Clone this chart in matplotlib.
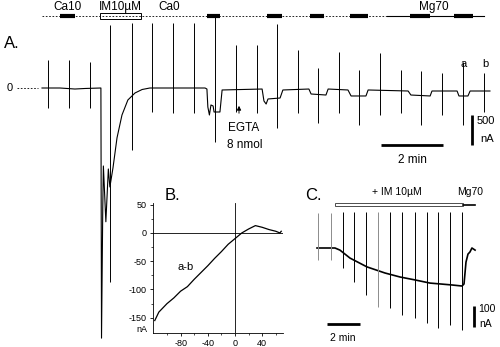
import numpy as np
import matplotlib
matplotlib.use('Agg')
import matplotlib.pyplot as plt

plt.rcParams['font.family'] = ['Liberation Sans', 'DejaVu Sans']
plt.rcParams['axes.unicode_minus'] = False

# ---------------- Panel A data (time in min, current in nA) ----------------
a_trace_t = [0, 0.58, 1.06, 1.39, 1.90, 1.92, 1.96, 1.98, 2.06, 2.14, 2.19,
             2.29, 2.42, 2.58, 2.77, 3.00, 3.23, 3.48, 5.26, 5.32, 5.35, 5.40,
             5.45, 5.52, 5.55, 5.74, 5.81, 7.10, 7.16, 7.23, 7.29, 7.68, 7.77,
             8.61, 8.68, 9.16, 9.23, 9.87, 9.97, 10.45, 10.52, 11.81, 11.90,
             12.52, 12.58, 13.39, 13.45, 13.74, 13.81, 14.45]
a_trace_i = [0, 0, -17, -8, 0, -4170, -2000, -1300, -2230, -1350, -1650,
             -1330, -830, -450, -200, -83, -25, 0, 0, -17, -317, -450,
             -283, -300, -400, -400, -33, -17, -217, -267, -183, -167, -33,
             -17, -100, -117, -17, -33, -133, -133, -33, -50, -117,
             -133, -50, -50, -133, -133, -50, -50]

a_spike_t = [0.19, 0.87, 1.55, 2.19, 2.90, 3.55, 4.23, 4.90, 5.58, 6.26, 6.94,
             7.58, 8.26, 8.90, 9.58, 10.23, 10.90, 11.58, 12.23, 12.90, 13.58, 14.26]
a_spike_top = [467, 467, 433, 1050, 1083, 1083, 1083, 1083, 1183, 717, 717,
               1067, 633, 333, 600, 300, 583, 300, 283, 250, 433, 250]
a_spike_bot = [-333, -333, -333, -3233, -1033, -400, -417, -417, -900, -400, -417,
               -667, -417, -583, -417, -617, -450, -417, -617, -450, -617, -400]

ca10_bar = (0.58, 1.06)
im_box = (1.87, 3.19)
ca0_bars = [(5.32, 5.74), (7.26, 7.74), (8.65, 9.10), (9.94, 10.52),
            (11.87, 12.52), (13.29, 13.90)]
dotted_span = (0, 11.13)
mg70_span = (11.13, 14.26)

# ---------------- Panel B data (mV, nA) ----------------
b_v = [-118, -112, -100, -90, -80, -70, -60, -50, -40, -30, -20, -10, 0,
       10, 20, 30, 40, 50, 60, 66, 68]
b_i = [-155, -140, -125, -115, -103, -95, -82, -70, -58, -45, -33, -20, -10,
       0, 7, 13, 10, 6, 3, 0, 3]

# ---------------- Panel C data (min, nA) ----------------
c_trace_t = [0, 1.09, 1.39, 2.00, 3.03, 4.12, 5.03, 5.94, 6.85, 7.45, 8.18,
             8.79, 8.91, 9.03, 9.15, 9.27, 9.39, 9.58]
c_trace_i = [0, 0, -10, -48, -90, -119, -138, -152, -167, -171, -176,
             -181, -171, -67, -29, -19, 0, -10]
c_spike_t = [0.06, 0.85, 1.58, 2.24, 2.97, 3.70, 4.42, 5.15, 5.94, 6.67,
             7.33, 8.06, 8.79]
c_spike_top = [167, 167, 171, 171, 171, 171, 171, 171, 171, 171, 171, 171, 171]
c_spike_bot = [-57, -57, -95, -162, -224, -281, -286, -319, -333, -357,
               -381, -367, -390]
c_spike_gray = [True, True, False, False, False, True, False, False, False,
                False, False, False, False]
c_im_box = (1.09, 8.85)
c_mg70 = (8.85, 9.58)

W, H = 500, 347
fig = plt.figure(figsize=(5, 3.47), dpi=100)


def fx(x):
    return x / W


def fy(y):
    return 1 - y / H


def label(x, y, s, size=8, ha='center', **kw):
    fig.text(fx(x), fy(y), s, fontsize=size, ha=ha, va='center', **kw)


# ---------------- Panel A ----------------
axA = fig.add_axes([0, 0, 1, 1])
axA.set_xlim(-42 / 31, (W - 42) / 31)
axA.set_ylim((88 - H) * 16.67, 88 * 16.67)
axA.axis('off')
axA.plot(a_trace_t, a_trace_i, color='black', lw=0.8)
axA.vlines(a_spike_t, a_spike_bot, a_spike_top, color='black', lw=0.7)

bar_y = 1200
axA.plot(dotted_span, [bar_y, bar_y], color='black', lw=0.6, ls=(0, (2, 2)))
axA.plot(mg70_span, [bar_y, bar_y], color='black', lw=0.8)
axA.plot(ca10_bar, [bar_y, bar_y], color='black', lw=3, solid_capstyle='butt')
for b in ca0_bars:
    axA.plot(b, [bar_y, bar_y], color='black', lw=3, solid_capstyle='butt')
axA.add_patch(plt.Rectangle((im_box[0], bar_y - 45), im_box[1] - im_box[0], 90,
                            facecolor='white', edgecolor='black', lw=0.7))
# zero reference
axA.plot([-25 / 31, -4 / 31], [0, 0], color='black', lw=0.6, ls=(0, (2, 2)))
# scale bars
axA.plot([(381 - 42) / 31, (443 - 42) / 31], [(88 - 145) * 16.67] * 2,
         color='black', lw=2, solid_capstyle='butt')
axA.plot([(472 - 42) / 31] * 2, [(88 - 115) * 16.67, (88 - 145) * 16.67],
         color='black', lw=2, solid_capstyle='butt')
# EGTA arrow
axA.annotate('', xy=((239 - 42) / 31, (88 - 103) * 16.67),
             xytext=((239 - 42) / 31, (88 - 116) * 16.67),
             arrowprops=dict(arrowstyle='-|>', color='black', lw=0.7,
                             mutation_scale=6))

label(12, 43, 'A.', size=12)
label(10, 88, '0', size=8)
label(68, 7, 'Ca10', size=8.5)
label(120, 7, 'IM10\u00b5M', size=8.5)
label(169, 7, 'Ca0', size=8.5)
label(434, 7, 'Mg70', size=8.5)
label(464, 64, 'a')
label(485, 64, 'b')
label(228, 128, 'EGTA', size=8.5, ha='left')
label(227, 145, '8 nmol', size=8.5, ha='left')
label(412, 160, '2 min', size=8.5)
label(477, 121, '500', size=8, ha='left')
label(480, 139, 'nA', size=8, ha='left')

# ---------------- Panel B ----------------
axB = fig.add_axes([153 / W, 1 - 333 / H, 130 / W, 130 / H])
axB.set_facecolor('none')
axB.plot(b_v, b_i, color='black', lw=0.9)
axB.axhline(0, color='black', lw=0.6)
axB.axvline(0, color='black', lw=0.6)
axB.set_xlim(-120.6, 70.6)
axB.set_ylim(-177, 53)
axB.set_xticks([-80, -40, 0, 40])
axB.set_xticks([-100, -60, -20, 20, 60], minor=True)
axB.set_yticks([50, 0, -50, -100, -150])
axB.set_yticks([25, -25, -75, -125], minor=True)
axB.tick_params(labelsize=6.5, length=2.5, width=0.6, pad=2)
axB.tick_params(which='minor', length=1.5, width=0.5)
for s in ['top', 'right']:
    axB.spines[s].set_visible(False)
for s in ['left', 'bottom']:
    axB.spines[s].set_linewidth(0.6)
axB.text(-73, -61, 'a-b', fontsize=8, ha='center', va='center')
label(172, 195, 'B.', size=12)
label(142, 330, 'nA', size=6.5)

# ---------------- Panel C ----------------
axC = fig.add_axes([0, 0, 1, 1])
axC.set_facecolor('none')
axC.set_xlim(-317 / 16.5, (W - 317) / 16.5)
axC.set_ylim((248 - H) * 4.76, 248 * 4.76)
axC.axis('off')
axC.plot(c_trace_t, c_trace_i, color='black', lw=1.2)
for t, top, bot, g in zip(c_spike_t, c_spike_top, c_spike_bot, c_spike_gray):
    axC.vlines(t, bot, top, color='0.55' if g else 'black', lw=0.7)
axC.add_patch(plt.Rectangle((c_im_box[0], 200), c_im_box[1] - c_im_box[0], 14,
                            facecolor='white', edgecolor='0.3', lw=0.7))
axC.plot(c_mg70, [205, 205], color='black', lw=1.2)
axC.plot([(327 - 317) / 16.5, (360 - 317) / 16.5], [(248 - 324) * 4.76] * 2,
         color='black', lw=2, solid_capstyle='butt')
axC.plot([(474 - 317) / 16.5] * 2, [(248 - 306) * 4.76, (248 - 327) * 4.76],
         color='black', lw=2, solid_capstyle='butt')

label(313, 195, 'C.', size=12)
label(397, 192, '+ IM 10\u00b5M', size=7.5)
label(470, 192, 'Mg70', size=7.5)
label(343, 338, '2 min', size=7.5)
label(478, 309, '100', size=7.5, ha='left')
label(479, 324, 'nA', size=7.5, ha='left')

fig.savefig('out.png', dpi=100)
